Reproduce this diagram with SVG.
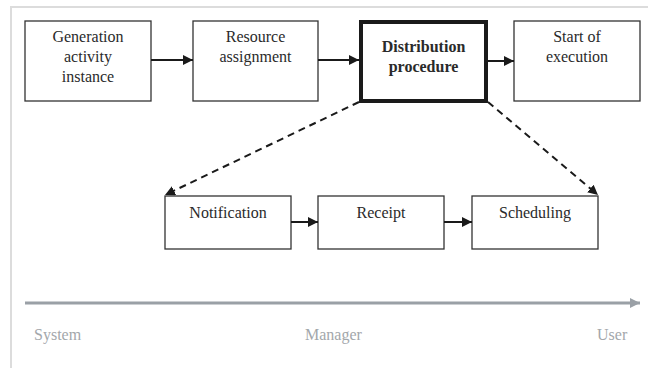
<svg xmlns="http://www.w3.org/2000/svg" width="648" height="368" viewBox="0 0 648 368">
  <defs>
    <marker id="arr" viewBox="0 0 10 10" refX="10" refY="5" markerWidth="10" markerHeight="10" markerUnits="userSpaceOnUse" orient="auto">
      <path d="M0,0 L10,5 L0,10 z" fill="#1a1a1a"/>
    </marker>
    <marker id="arrAxis" viewBox="0 0 10 10" refX="10" refY="5" markerWidth="10" markerHeight="10" markerUnits="userSpaceOnUse" orient="auto">
      <path d="M0,0 L10,5 L0,10 z" fill="#9aa0a6"/>
    </marker>
  </defs>
  <style>
    .box { fill: #ffffff; stroke: #333333; stroke-width: 1.3; }
    .bold { fill: #ffffff; stroke: #1a1a1a; stroke-width: 4; }
    .lbl { font-family: "Liberation Serif", "Times New Roman", serif; font-size: 16px; fill: #2a2a2a; text-anchor: middle; }
    .lblb { font-family: "Liberation Serif", "Times New Roman", serif; font-size: 16px; font-weight: bold; fill: #2a2a2a; text-anchor: middle; }
    .solid { stroke: #1a1a1a; stroke-width: 2; fill: none; }
    .dash { stroke: #1a1a1a; stroke-width: 2; fill: none; stroke-dasharray: 7 5; }
    .axis { stroke: #9aa0a6; stroke-width: 3; fill: none; }
    .axlbl { font-family: "Liberation Serif", "Times New Roman", serif; font-size: 16px; fill: #a3a7ab; }
  </style>

  <rect width="648" height="368" fill="#ffffff"/>
  <!-- outer frame -->
  <path d="M11,368 L11,7 L648,7" fill="none" stroke="#dcdcdc" stroke-width="2"/>

  <g id="n-generation">
    <rect class="box" x="25" y="21" width="126" height="80"/>
    <text class="lbl" x="88" y="42">Generation</text>
    <text class="lbl" x="88" y="62">activity</text>
    <text class="lbl" x="88" y="82">instance</text>
  </g>
  <g id="n-resource">
    <rect class="box" x="193" y="21" width="125" height="80"/>
    <text class="lbl" x="255.5" y="42">Resource</text>
    <text class="lbl" x="255.5" y="62">assignment</text>
  </g>
  <g id="n-distribution">
    <rect class="bold" x="361" y="22" width="125" height="79"/>
    <text class="lblb" x="423.5" y="52">Distribution</text>
    <text class="lblb" x="423.5" y="72">procedure</text>
  </g>
  <g id="n-start">
    <rect class="box" x="514" y="21" width="126" height="80"/>
    <text class="lbl" x="577" y="42">Start of</text>
    <text class="lbl" x="577" y="62">execution</text>
  </g>
  <g id="n-notification">
    <rect class="box" x="165" y="196" width="126" height="53"/>
    <text class="lbl" x="228" y="218">Notification</text>
  </g>
  <g id="n-receipt">
    <rect class="box" x="318" y="196" width="126" height="53"/>
    <text class="lbl" x="381" y="218">Receipt</text>
  </g>
  <g id="n-scheduling">
    <rect class="box" x="472" y="196" width="126" height="53"/>
    <text class="lbl" x="535" y="218">Scheduling</text>
  </g>

  <g id="connectors">
    <line class="solid" x1="151" y1="60" x2="193" y2="60" marker-end="url(#arr)"/>
    <line class="solid" x1="318" y1="60" x2="359" y2="60" marker-end="url(#arr)"/>
    <line class="solid" x1="488" y1="61" x2="514" y2="61" marker-end="url(#arr)"/>
    <line class="solid" x1="291" y1="222" x2="318" y2="222" marker-end="url(#arr)"/>
    <line class="solid" x1="444" y1="222" x2="472" y2="222" marker-end="url(#arr)"/>
    <line class="dash" x1="359" y1="102" x2="165" y2="195" marker-end="url(#arr)"/>
    <line class="dash" x1="488" y1="102" x2="598" y2="195" marker-end="url(#arr)"/>
  </g>

  <g id="axis">
    <line class="axis" x1="25" y1="303" x2="640" y2="303" marker-end="url(#arrAxis)"/>
    <text class="axlbl" x="34" y="340">System</text>
    <text class="axlbl" x="305" y="340">Manager</text>
    <text class="axlbl" x="597" y="340">User</text>
  </g>
</svg>
